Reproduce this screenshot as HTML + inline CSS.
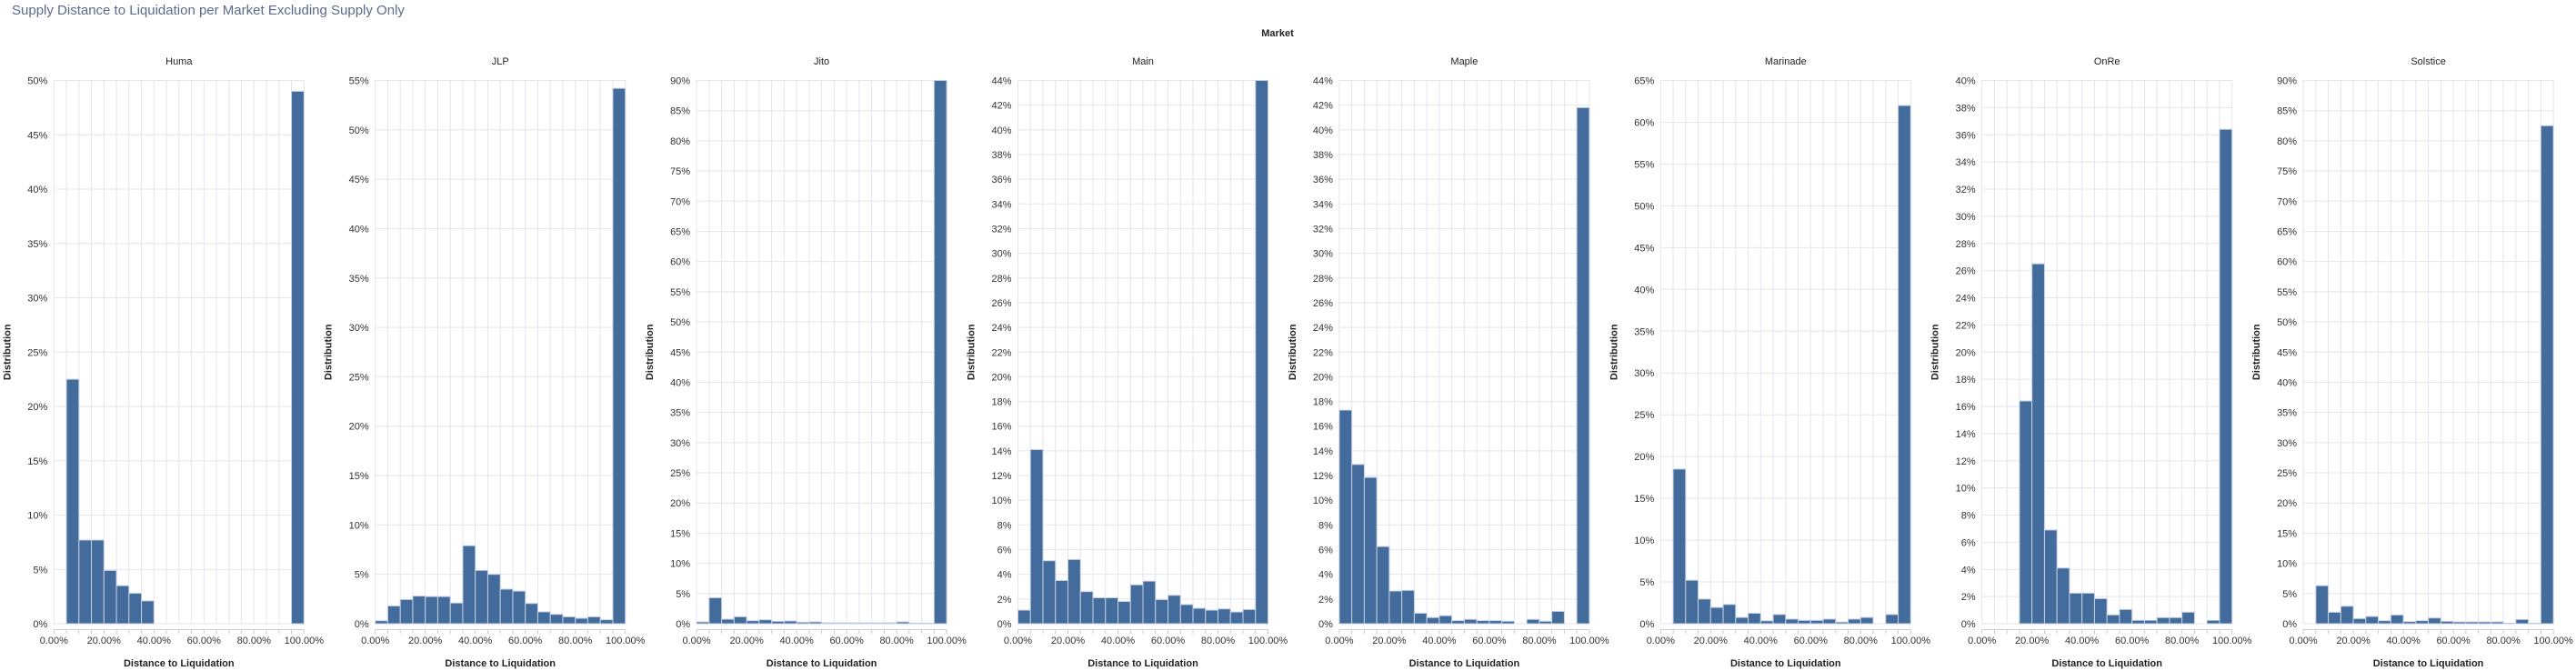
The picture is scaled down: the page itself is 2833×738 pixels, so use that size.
<!DOCTYPE html>
<html><head><meta charset="utf-8"><style>
html,body{margin:0;padding:0;background:#fff;}
svg{display:block;font-family:"Liberation Sans",sans-serif;}
</style></head><body>
<svg id="chart" width="2833" height="738" viewBox="0 0 2833 738">
<text x="13" y="16" font-size="15" fill="#5b6b8c">Supply Distance to Liquidation per Market Excluding Supply Only</text>
<text x="1405" y="40" font-size="11" font-weight="bold" fill="#222" text-anchor="middle">Market</text>
</svg>
<script>
const markets = ["Huma","JLP","Jito","Main","Maple","Marinade","OnRe","Solstice"];
const yMaxes = [50,55,90,44,44,65,40,90];
const yStepsArr = [5,5,5,2,2,5,2,5];
const huma = [0,22.5,7.7,7.7,4.9,3.5,2.8,2.1,0,0,0,0,0,0,0,0,0,0,0,49];
const jlp = [0.3,1.8,2.45,2.8,2.75,2.75,2.1,7.9,5.4,5.0,3.5,3.3,2.05,1.2,0.95,0.7,0.55,0.7,0.4,54.2];
const jito = [0.3,4.3,0.75,1.15,0.5,0.65,0.4,0.45,0.25,0.3,0.15,0.15,0.15,0.15,0.15,0.15,0.3,0.1,0.1,90];
const main = [1.1,14.1,5.1,3.5,5.2,2.6,2.1,2.1,1.8,3.15,3.45,1.95,2.3,1.55,1.25,1.1,1.2,0.95,1.15,44.6];
const maple = [17.3,12.9,11.85,6.25,2.65,2.7,0.85,0.5,0.65,0.25,0.35,0.25,0.25,0.2,0,0.35,0.2,1.0,0,41.8];
const marinade = [0,18.5,5.2,2.95,1.95,2.3,0.75,1.25,0.35,1.1,0.55,0.4,0.4,0.55,0.2,0.55,0.75,0,1.1,62];
const onre = [0,0,0,16.4,26.5,6.9,4.1,2.25,2.25,1.85,0.65,1.05,0.25,0.25,0.45,0.45,0.85,0,0.25,36.4];
const solstice = [0,6.3,1.9,2.9,0.85,1.2,0.5,1.45,0.35,0.5,0.95,0.4,0.3,0.3,0.3,0.3,0.1,0.7,0.1,82.5];
const seriesList = [huma,jlp,jito,main,maple,marinade,onre,solstice];
const xTickLabels = ["0.00%","20.00%","40.00%","60.00%","80.00%","100.00%"];

const svg = document.getElementById('chart');
const NS = 'http://www.w3.org/2000/svg';
function mk(tag, attrs, parent) {
  const e = document.createElementNS(NS, tag);
  for (const k in attrs) e.setAttribute(k, attrs[k]);
  (parent || svg).appendChild(e);
  return e;
}
const X0 = 59.3, PW = 275, GAP = 353.4, TOP = 88.5, BOT = 686, PH = BOT - TOP;

markets.forEach((m, i) => {
  const g = mk('g', {});
  
  
  const x0 = X0 + GAP * i;
  const ymax = yMaxes[i], step = yStepsArr[i];
  const xs = v => x0 + v / 100 * PW;
  const ys = v => BOT - Math.min(v, ymax) / ymax * PH;

  const t = mk('text', {x: x0 + PW / 2, y: 71, 'font-size': 11, 'text-anchor': 'middle', fill: '#222'}, g);
  t.textContent = m;
  
  

  // horizontal grid + y labels
  for (let v = 0; v <= ymax + 1e-9; v += step) {
    const y = ys(v);
    const gl = mk('line', {x1: x0, x2: x0 + PW, y1: y, y2: y, stroke: '#e4e5ee', 'stroke-width': 1}, g);
    
    
    const lb = mk('text', {x: x0 - 7, y: y + 4, 'font-size': 11, 'text-anchor': 'end', fill: '#333'}, g);
    lb.textContent = v + '%';
    
    
  }
  // vertical grid + x ticks
  for (let b = 0; b <= 20; b++) {
    const x = xs(b * 5);
    const vl = mk('line', {x1: x, x2: x, y1: TOP, y2: BOT, stroke: '#e4e5ee', 'stroke-width': 1}, g);
    
    
    const tk = mk('line', {x1: x, x2: x, y1: 692.5, y2: 697, stroke: '#ccc', 'stroke-width': 1}, g);
    
    
  }
  const dom = mk('line', {x1: x0, x2: x0 + PW, y1: 692.5, y2: 692.5, stroke: '#ccc', 'stroke-width': 1}, g);
  
  
  xTickLabels.forEach((lab, k) => {
    const tl = mk('text', {x: xs(k * 20), y: 708, 'font-size': 11, 'text-anchor': 'middle', fill: '#333'}, g);
    tl.textContent = lab;
    
    
  });
  // bars
  seriesList[i].forEach((v, b) => {
    if (v <= 0) return;
    const r = mk('rect', {x: xs(b * 5), y: ys(v), width: PW / 20, height: BOT - ys(v), fill: '#436c9c', stroke: '#c3cfe0', 'stroke-width': 1}, g);
    
    
  });
  const xt = mk('text', {x: x0 + PW / 2, y: 733, 'font-size': 11, 'font-weight': 'bold', 'text-anchor': 'middle', fill: '#222'}, g);
  xt.textContent = 'Distance to Liquidation';
  
  
  const yt = mk('text', {x: 0, y: 0, 'font-size': 11, 'font-weight': 'bold', 'text-anchor': 'middle', fill: '#222', transform: 'translate(' + (x0 - 48) + ',' + (TOP + PH / 2) + ') rotate(-90)'}, g);
  yt.textContent = 'Distribution';
  
  
});
</script>
</body></html>
